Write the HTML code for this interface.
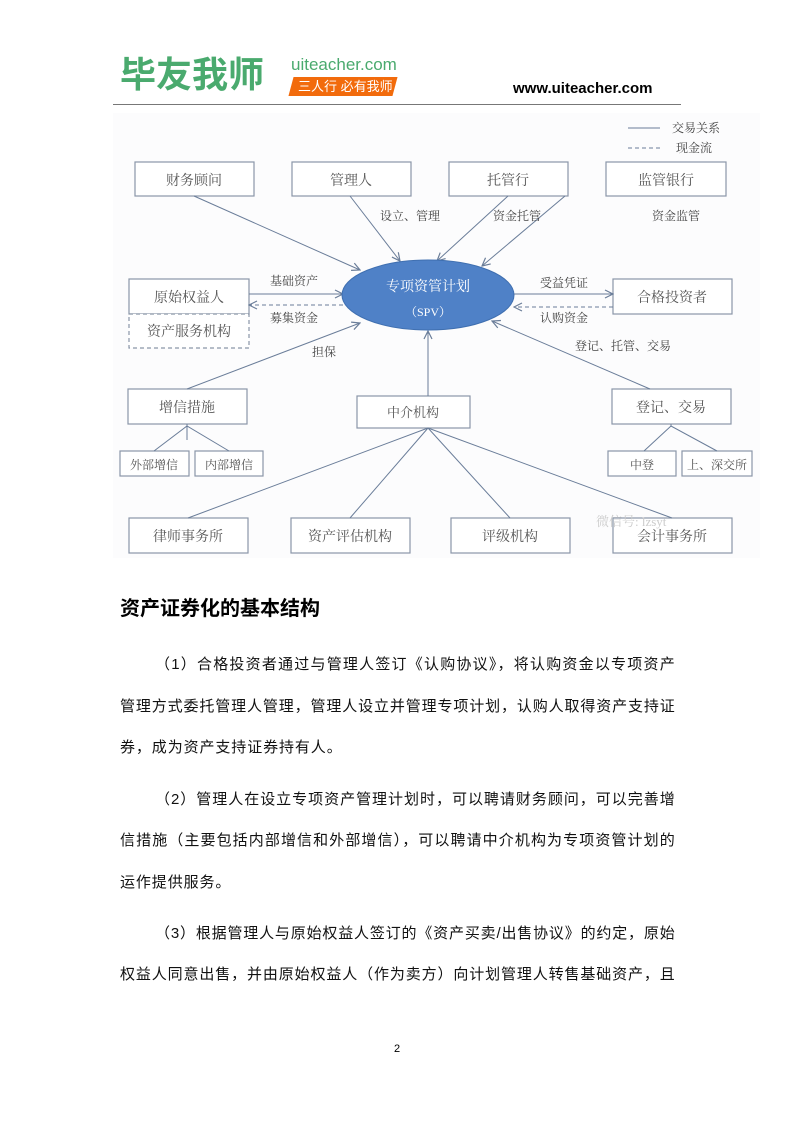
<!DOCTYPE html>
<html><head><meta charset="utf-8"><style>
body{margin:0;width:794px;height:1123px;background:#fff;position:relative;font-family:"Liberation Sans","Noto Sans CJK SC",sans-serif;overflow:hidden}
.a{position:absolute;white-space:nowrap}
.p{position:absolute;left:120px;width:555px;font-size:15px;color:#111;white-space:nowrap;text-align:justify;text-align-last:justify;letter-spacing:0.3px}
.p.i{left:155px;width:520px}
.p.s{text-align-last:left;letter-spacing:0.9px}
</style></head><body>
<div class="a" style="left:120px;top:52px;font-size:36px;font-weight:bold;color:#4aaa6e;line-height:46px">毕友我师</div>
<div class="a" style="left:291px;top:55px;font-size:17px;color:#4aaa6e">uiteacher.com</div>
<div class="a" style="left:291px;top:77px;width:104px;height:19px;background:#f26b0c;transform:skewX(-15deg)"></div>
<div class="a" style="left:298px;top:77px;font-size:13px;color:#fff;line-height:19px">三人行&nbsp;必有我师</div>
<div class="a" style="left:513px;top:80px;font-size:15px;font-weight:bold;color:#000">www.uiteacher.com</div>
<div class="a" style="left:113px;top:104px;width:568px;height:1px;background:#777"></div>

<svg class="a" style="left:0;top:0" width="794" height="570" font-family="Liberation Serif,Noto Serif CJK SC,serif">
<defs><marker id="m" markerWidth="10" markerHeight="10" refX="9" refY="5" orient="auto" markerUnits="userSpaceOnUse"><path d="M1,1 L9,5 L1,9" fill="none" stroke="#6a7d99" stroke-width="1.2"/></marker></defs>
<rect x="113" y="113" width="647" height="445" fill="#fcfcfd"/>
<g stroke="#8a96a8" stroke-width="1.2" fill="#fff">
<rect x="135" y="162" width="119" height="34"/><rect x="292" y="162" width="119" height="34"/>
<rect x="449" y="162" width="119" height="34"/><rect x="606" y="162" width="120" height="34"/>
<rect x="129" y="279" width="120" height="35"/>
<rect x="129" y="314" width="120" height="34" stroke-dasharray="4,3"/>
<rect x="613" y="279" width="119" height="35"/>
<rect x="128" y="389" width="119" height="35"/><rect x="357" y="396" width="113" height="32"/>
<rect x="612" y="389" width="119" height="35"/>
<rect x="120" y="451" width="69" height="25"/><rect x="195" y="451" width="68" height="25"/>
<rect x="608" y="451" width="68" height="25"/><rect x="682" y="451" width="70" height="25"/>
<rect x="129" y="518" width="119" height="35"/><rect x="291" y="518" width="119" height="35"/>
<rect x="451" y="518" width="119" height="35"/><rect x="613" y="518" width="119" height="35"/>
</g>
<g stroke="#6a7d99" stroke-width="1" fill="none">
<line x1="194" y1="196" x2="360" y2="270" marker-end="url(#m)"/>
<line x1="350" y1="196" x2="400" y2="261" marker-end="url(#m)"/>
<line x1="508" y1="196" x2="437" y2="261" marker-end="url(#m)"/>
<line x1="565" y1="196" x2="482" y2="266" marker-end="url(#m)"/>
<line x1="249" y1="294" x2="343" y2="294" marker-end="url(#m)"/>
<line x1="343" y1="305" x2="249" y2="305" stroke-dasharray="4,3" marker-end="url(#m)"/>
<line x1="514" y1="294" x2="613" y2="294" marker-end="url(#m)"/>
<line x1="613" y1="307" x2="514" y2="307" stroke-dasharray="4,3" marker-end="url(#m)"/>
<line x1="187" y1="389" x2="360" y2="323" marker-end="url(#m)"/>
<line x1="428" y1="396" x2="428" y2="331" marker-end="url(#m)"/>
<line x1="650" y1="389" x2="492" y2="321" marker-end="url(#m)"/>
<path d="M187 424 L187 440 M154 451 L187 426 L229 451 M644 451 L671 426 L717 451 M671 424 L671 426"/>
<path d="M188 518 L428 428 M350 518 L428 428 M510 518 L428 428 M672 518 L428 428"/>
<line x1="628" y1="128" x2="660" y2="128"/><line x1="628" y1="148" x2="660" y2="148" stroke-dasharray="4,3"/>
</g>
<ellipse cx="428" cy="295" rx="86" ry="35" fill="#4f81c7" stroke="#3f6fb0"/>
<g font-size="14" fill="#555" text-anchor="middle">
<text x="194" y="185">财务顾问</text><text x="351" y="185">管理人</text><text x="508" y="185">托管行</text><text x="666" y="185">监管银行</text>
<text x="189" y="302">原始权益人</text><text x="189" y="336">资产服务机构</text><text x="672" y="302">合格投资者</text>
<text x="187" y="412">增信措施</text><text x="413" y="417" font-size="13">中介机构</text><text x="671" y="412">登记、交易</text>
<text x="154" y="469" font-size="12">外部增信</text><text x="229" y="469" font-size="12">内部增信</text>
<text x="642" y="469" font-size="12">中登</text><text x="717" y="469" font-size="12">上、深交所</text>
<text x="188" y="541">律师事务所</text><text x="350" y="541">资产评估机构</text><text x="510" y="541">评级机构</text><text x="672" y="541">会计事务所</text>
</g>
<g font-size="12" fill="#444">
<text x="380" y="220">设立、管理</text><text x="493" y="220">资金托管</text><text x="652" y="220">资金监管</text>
<text x="270" y="285">基础资产</text><text x="270" y="322">募集资金</text>
<text x="540" y="287">受益凭证</text><text x="540" y="322">认购资金</text>
<text x="312" y="356">担保</text><text x="575" y="350">登记、托管、交易</text>
<text x="672" y="132">交易关系</text><text x="676" y="152">现金流</text>
</g>
<text x="428" y="291" font-size="14" fill="#fff" text-anchor="middle">专项资管计划</text>
<text x="428" y="316" font-size="12" fill="#fff" text-anchor="middle">（SPV）</text>
<text x="596" y="526" font-size="13" fill="#ccc">微信号: lzsyt</text>
</svg>

<div class="a" style="left:120px;top:592px;font-size:20px;font-weight:bold;color:#000">资产证券化的基本结构</div>
<div class="p i" style="top:653px">（1）合格投资者通过与管理人签订《认购协议》，将认购资金以专项资产</div>
<div class="p" style="top:695px">管理方式委托管理人管理，管理人设立并管理专项计划，认购人取得资产支持证</div>
<div class="p s" style="top:736px">券，成为资产支持证券持有人。</div>
<div class="p i" style="top:788px">（2）管理人在设立专项资产管理计划时，可以聘请财务顾问，可以完善增</div>
<div class="p" style="top:829px">信措施（主要包括内部增信和外部增信），可以聘请中介机构为专项资管计划的</div>
<div class="p s" style="top:871px">运作提供服务。</div>
<div class="p i" style="top:922px">（3）根据管理人与原始权益人签订的《资产买卖/出售协议》的约定，原始</div>
<div class="p" style="top:963px">权益人同意出售，并由原始权益人（作为卖方）向计划管理人转售基础资产，且</div>
<div class="a" style="left:394px;top:1043px;font-size:11px">2</div>
</body></html>
